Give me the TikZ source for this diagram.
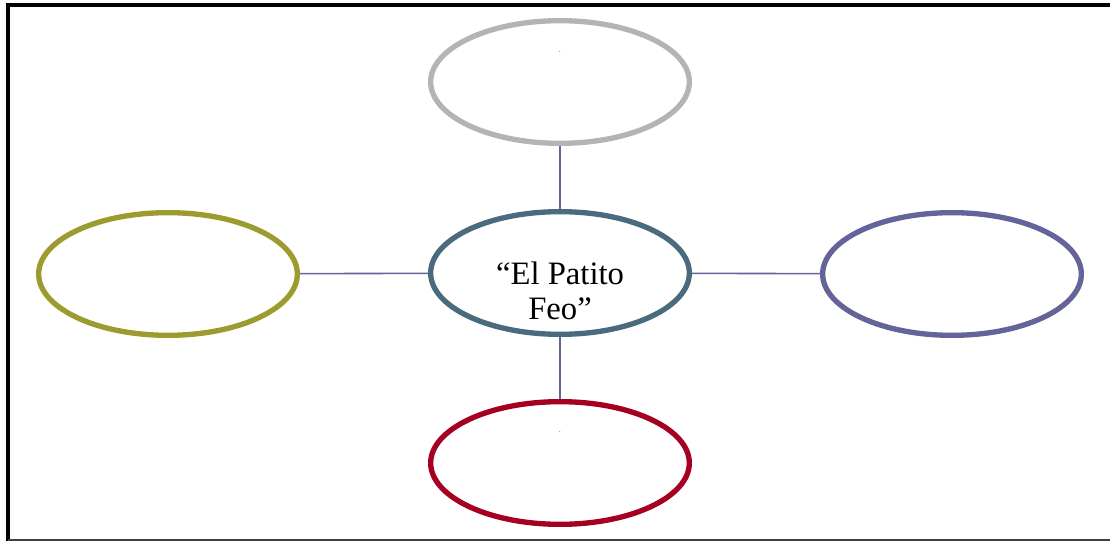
\documentclass[tikz,border=0pt]{standalone}
\usepackage{fontspec}
\setmainfont{Liberation Serif}
\usetikzlibrary{shapes.geometric}
\definecolor{cgray}{RGB}{180,180,180}
\definecolor{cteal}{RGB}{74,107,125}
\definecolor{colive}{RGB}{155,155,48}
\definecolor{cpurple}{RGB}{100,100,155}
\definecolor{cred}{RGB}{165,0,33}
\definecolor{cline}{RGB}{100,100,155}
\tikzset{
  bubble/.style={ellipse, draw, line width=4pt, minimum width=194pt, minimum height=92pt, inner sep=0pt},
  link/.style={draw=cline, line width=1.2pt},
  dot/.style={inner sep=0pt, font=\fontsize{5pt}{5pt}\selectfont}
}
\begin{document}
\begin{tikzpicture}[x=0.75pt, y=-0.75pt]
\useasboundingbox (0,0) rectangle (1110,541);
\draw[line width=3pt] (8,541) -- (8,5) -- (1110,5);
\draw[line width=1.2pt, black!75] (8,540) -- (1110,540);
\node[bubble, draw=cgray] (top) at (560,82) {};
\node[bubble, draw=cteal] (center) at (560,273) {};
\node[bubble, draw=colive] (left) at (168,274) {};
\node[bubble, draw=cpurple] (right) at (952,274) {};
\node[bubble, draw=cred] (bottom) at (560,463) {};
\node[dot] (topdot) at (560,52) {.};
\node[dot] (botdot) at (560,432) {.};
\node[align=center, font=\fontsize{24.5pt}{26.5pt}\selectfont] (title) at (560,291) {“El Patito\\Feo”};
\draw[link] (top) -- (center);
\draw[link] (center) -- (bottom);
\draw[link] (left) -- (center);
\draw[link] (center) -- (right);
\end{tikzpicture}
\end{document}
